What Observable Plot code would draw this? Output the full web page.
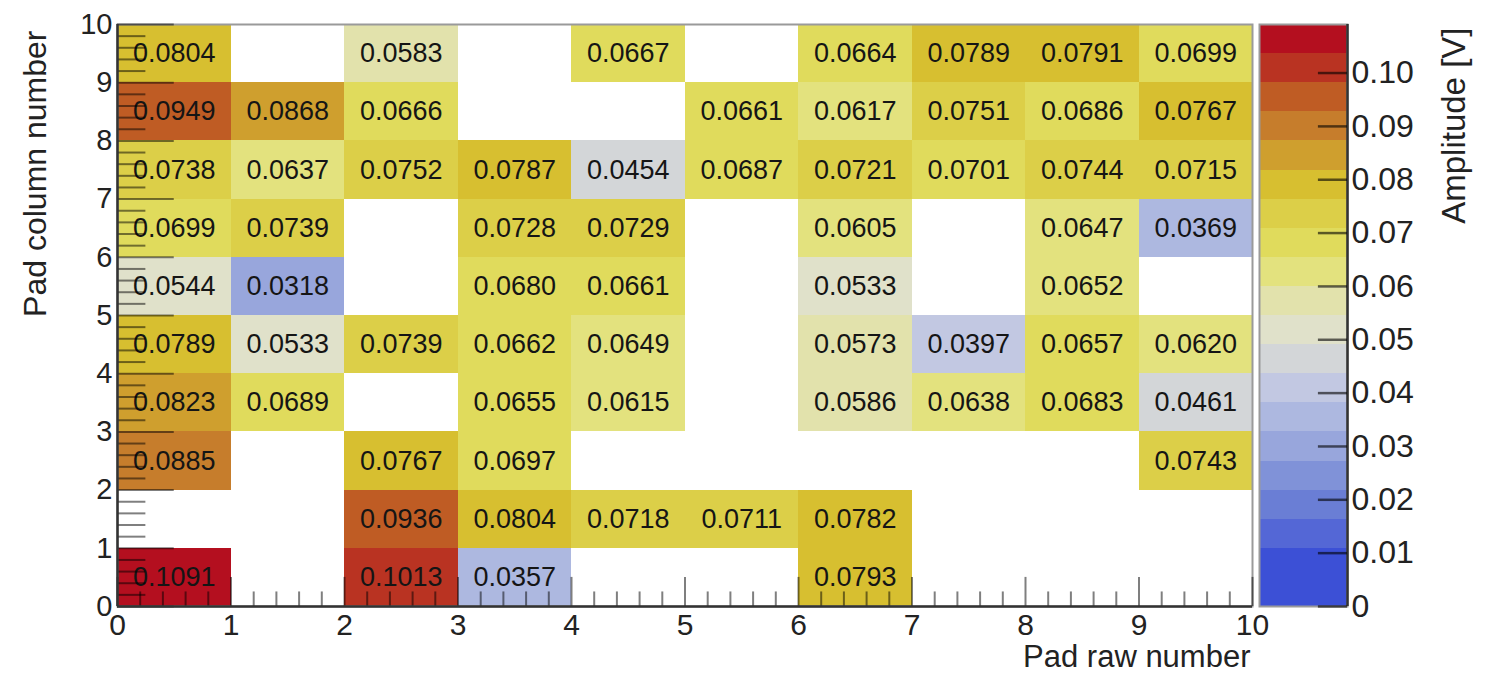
<!DOCTYPE html>
<html>
<head>
<meta charset="utf-8">
<script src="https://cdn.jsdelivr.net/npm/d3@7"></script>
<script src="https://cdn.jsdelivr.net/npm/@observablehq/plot@0.6"></script>
<style>
  html, body { margin: 0; padding: 0; background: #fff; }
  #wrap { position: relative; width: 1485px; height: 673px; overflow: hidden; }
  #wrap svg { position: absolute; left: 0; top: 0; max-width: none; }
</style>
</head>
<body>
<div id="wrap"></div>
<script>
// ---- Data: amplitude [V] per pad; index in each array = pad raw number 0..9 ----
const padRawNumber = [0, 1, 2, 3, 4, 5, 6, 7, 8, 9];
const padColumnNumber = [0, 1, 2, 3, 4, 5, 6, 7, 8, 9];
const col0 = [0.1091, null, 0.1013, 0.0357, null, null, 0.0793, null, null, null];
const col1 = [null, null, 0.0936, 0.0804, 0.0718, 0.0711, 0.0782, null, null, null];
const col2 = [0.0885, null, 0.0767, 0.0697, null, null, null, null, null, 0.0743];
const col3 = [0.0823, 0.0689, null, 0.0655, 0.0615, null, 0.0586, 0.0638, 0.0683, 0.0461];
const col4 = [0.0789, 0.0533, 0.0739, 0.0662, 0.0649, null, 0.0573, 0.0397, 0.0657, 0.0620];
const col5 = [0.0544, 0.0318, null, 0.0680, 0.0661, null, 0.0533, null, 0.0652, null];
const col6 = [0.0699, 0.0739, null, 0.0728, 0.0729, null, 0.0605, null, 0.0647, 0.0369];
const col7 = [0.0738, 0.0637, 0.0752, 0.0787, 0.0454, 0.0687, 0.0721, 0.0701, 0.0744, 0.0715];
const col8 = [0.0949, 0.0868, 0.0666, null, null, 0.0661, 0.0617, 0.0751, 0.0686, 0.0767];
const col9 = [0.0804, null, 0.0583, null, 0.0667, null, 0.0664, 0.0789, 0.0791, 0.0699];
const columns = [col0, col1, col2, col3, col4, col5, col6, col7, col8, col9];

// tick labels
const xTickLabels = [0, 1, 2, 3, 4, 5, 6, 7, 8, 9, 10];
const yTickLabels = [0, 1, 2, 3, 4, 5, 6, 7, 8, 9, 10];
const zTickLabels = [0, 0.01, 0.02, 0.03, 0.04, 0.05, 0.06, 0.07, 0.08, 0.09, 0.10];

// palette (20 contour levels, low -> high)
const zMin = 0, zMax = 0.1091, nContours = 20;
const paletteColors = [
  "#3c50d6", "#3c50d6", "#5467d6", "#6a7ed5", "#8092d8",
  "#98a6dc", "#adb8e0", "#c2c8e2", "#d3d6d8", "#e0e1ca",
  "#e2e2ac", "#e3e27e", "#e0db5c", "#dccf48", "#d7bf30",
  "#cf9f2e", "#c67d2c", "#bf5c24", "#b93322", "#b40f1f"
];

// ---- build tables ----
const cells = [];
padColumnNumber.forEach((y, j) => {
  padRawNumber.forEach((x, i) => {
    const v = columns[j][i];
    if (v != null) cells.push({x, y, v});
  });
});
const dz = (zMax - zMin) / nContours;
const levels = d3.range(1, nContours).map(i => zMin + i * dz);
const bands = d3.range(0, nContours).map(i => ({lo: zMin + i * dz, hi: zMin + (i + 1) * dz}));
const minorX = d3.range(0, 50).map(i => i / 5).filter(d => d % 1 !== 0);
const minorY = minorX;

const FONT = "'Liberation Sans', Arial, Helvetica, sans-serif";
const W = 1485, H = 673;
const mL = 117, mR = W - 1252, mT = 24, mB = H - 606;
const plotW = W - mL - mR, plotH = H - mT - mB;
const yTickLen = 0.05 * plotW, xTickLen = 0.05 * plotH;
const tickStyle = {stroke: "#000", strokeOpacity: 0.5, strokeWidth: 2};
const colorScale = {type: "threshold", domain: levels, range: paletteColors};

const main = Plot.plot({
  width: W, height: H,
  marginLeft: mL, marginRight: mR, marginTop: mT, marginBottom: mB,
  x: {domain: [0, 10]},
  y: {domain: [0, 10]},
  color: colorScale,
  style: {fontFamily: FONT, background: "transparent", color: "#222"},
  marks: [
    Plot.rect(cells, {x1: "x", x2: d => d.x + 1, y1: "y", y2: d => d.y + 1, fill: "v", shapeRendering: "crispEdges"}),
    Plot.text(cells, {x: d => d.x + 0.5, y: d => d.y + 0.5, text: d => d.v.toFixed(4), fontSize: 27, fill: "#151515"}),
    Plot.frame({stroke: "#9a9a9a", strokeWidth: 2}),
    Plot.ruleY(minorY, {insetRight: plotW - yTickLen / 2, ...tickStyle}),
    Plot.ruleY(yTickLabels, {insetRight: plotW - yTickLen, ...tickStyle}),
    Plot.ruleX(minorX, {insetTop: plotH - xTickLen / 2, ...tickStyle}),
    Plot.ruleX(xTickLabels, {insetTop: plotH - xTickLen, ...tickStyle}),
    Plot.ruleX([0], {stroke: "#333", strokeWidth: 2.5}),
    Plot.ruleY([0], {stroke: "#333", strokeWidth: 2.5}),
    Plot.axisX(xTickLabels, {tickSize: 0, tickPadding: 7, fontSize: 30, label: null, tickFormat: d => String(d)}),
    Plot.axisY(yTickLabels, {tickSize: 0, tickPadding: 5, fontSize: 29, label: null, tickFormat: d => String(d)}),
    Plot.text(["Pad raw number"], {text: d => d, frameAnchor: "bottom-right", dx: -2, dy: 60, textAnchor: "end", lineAnchor: "bottom", fontSize: 31, fill: "#222"}),
    Plot.text(["Pad column number"], {text: d => d, frameAnchor: "top-left", rotate: -90, dx: -72, dy: 6, textAnchor: "end", lineAnchor: "bottom", fontSize: 32, fill: "#222"})
  ]
});

const cbL = 1259, cbR = 1347;
const cbW = cbR - cbL;
const bar = Plot.plot({
  width: W, height: H,
  marginLeft: cbL, marginRight: W - cbR, marginTop: mT, marginBottom: mB,
  x: {domain: [0, 1], axis: null},
  y: {domain: [zMin, zMax]},
  color: colorScale,
  style: {fontFamily: FONT, background: "transparent", color: "#222"},
  marks: [
    Plot.rect(bands, {x1: () => 0, x2: () => 1, y1: "lo", y2: "hi", fill: d => (d.lo + d.hi) / 2, shapeRendering: "crispEdges"}),
    Plot.frame({stroke: "#9a9a9a", strokeWidth: 2}),
    Plot.ruleX([1], {stroke: "#333", strokeWidth: 2.5}),
    Plot.ruleY(zTickLabels, {insetLeft: cbW - xTickLen, stroke: "#000", strokeOpacity: 0.6, strokeWidth: 2.5}),
    Plot.axisY(zTickLabels, {anchor: "right", tickSize: 0, tickPadding: 4, fontSize: 32, label: null, tickFormat: d => d === 0 ? "0" : d.toFixed(2)}),
    Plot.text(["Amplitude [V]"], {text: d => d, frameAnchor: "top-right", rotate: -90, dx: 117, dy: 3, textAnchor: "end", lineAnchor: "bottom", fontSize: 33, fill: "#222"})
  ]
});

const wrap = document.getElementById("wrap");
wrap.appendChild(main);
wrap.appendChild(bar);
</script>
</body>
</html>
